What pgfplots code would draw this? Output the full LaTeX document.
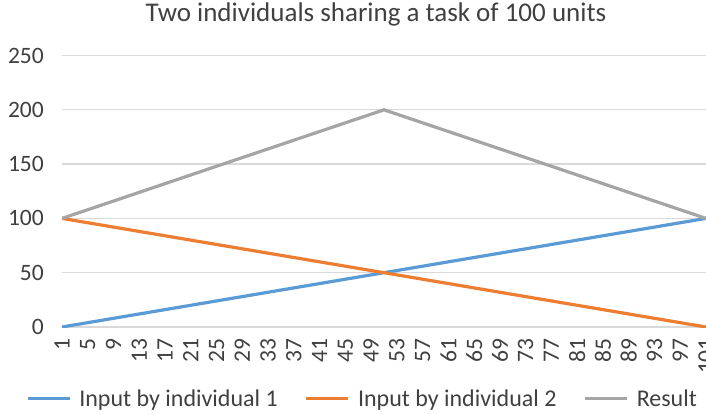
\documentclass[border=0pt]{standalone}
\usepackage{pgfplots}
\pgfplotsset{compat=1.18}
\usepackage{fontspec}
\setmainfont{Carlito}
\definecolor{cblue}{HTML}{5B9BD5}
\definecolor{corange}{HTML}{ED7D31}
\definecolor{cgray}{HTML}{A5A5A5}
\definecolor{cgrid}{HTML}{D9D9D9}
\definecolor{ctext}{HTML}{404040}
\begin{document}
\begin{tikzpicture}[x=1pt,y=1pt]
\useasboundingbox (0,0) rectangle (706,413);
\begin{axis}[
  at={(62pt,86pt)}, anchor=south west,
  scale only axis, width=644pt, height=271.5pt,
  xmin=1, xmax=101, ymin=0, ymax=250,
  xtick={1,5,...,101}, ytick={0,50,...,250},
  axis line style={draw=none},
  ymajorgrids, grid style={cgrid, line width=1.3pt},
  major tick length=0pt,
  /pgf/number format/assume math mode=true,
  ticklabel style={font=\fontsize{23.5}{27}\selectfont, text=ctext},
  xticklabel style={rotate=90, anchor=east, xshift=-9pt, inner sep=2pt},
  yticklabel style={anchor=east, xshift=-16pt, inner sep=2pt},
  title={Two individuals sharing a task of 100 units},
  title style={at={(axis description cs:0.4876,1)}, anchor=center, yshift=35.5pt, font=\fontsize{27}{31}\selectfont, text=ctext},
  legend columns=3,
  legend style={draw=none, fill=none, at={(axis description cs:0.4666,-0.264)}, anchor=center,
    font=\fontsize{24}{28}\selectfont, text=ctext,
    /tikz/every odd column/.append style={column sep=6pt},
    /tikz/every even column/.append style={column sep=25pt}},
  legend image code/.code={\draw[#1, line width=3.2pt] (0pt,0pt) -- (42pt,0pt);},
]
\draw[cgrid, line width=1.3pt] (axis cs:1,0) -- (axis cs:101,0);
\addplot[cblue, line width=3.2pt] coordinates {(1,0) (101,100)};
\addlegendentry{Input by individual 1}
\addplot[corange, line width=3.2pt] coordinates {(1,100) (101,0)};
\addlegendentry{Input by individual 2}
\addplot[cgray, line width=3.2pt] coordinates {(1,100) (51,200) (101,100)};
\addlegendentry{Result}
\end{axis}
\end{tikzpicture}
\end{document}
